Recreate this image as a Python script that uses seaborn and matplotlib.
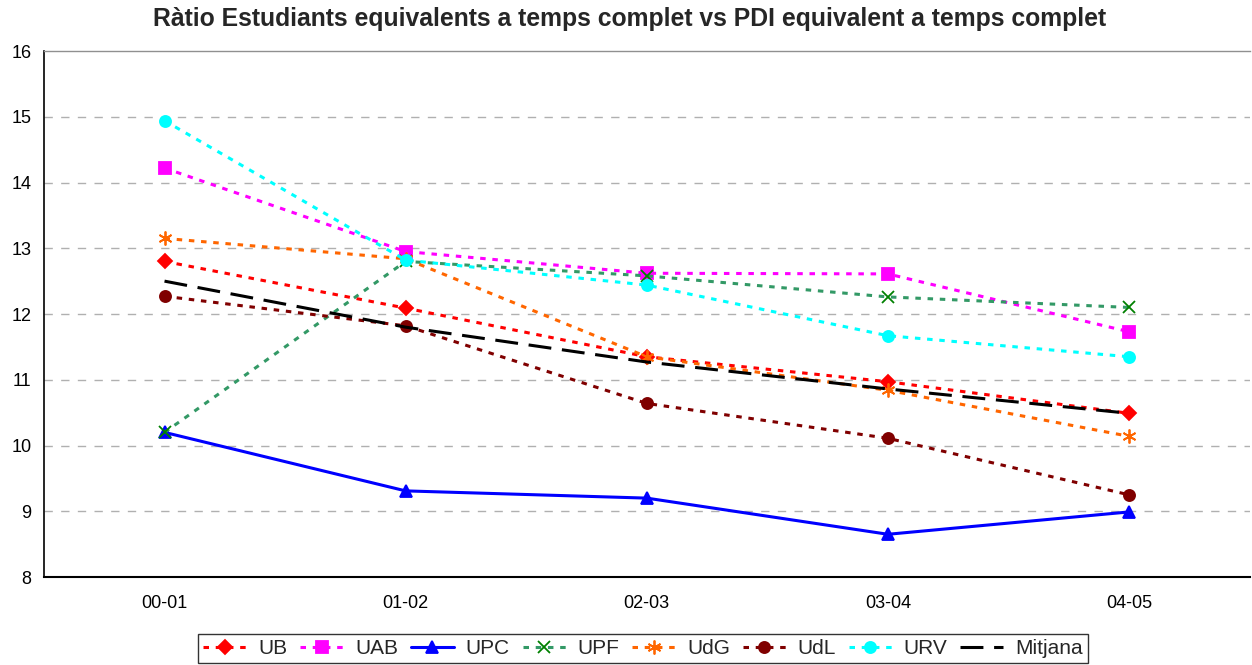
import matplotlib
matplotlib.use("Agg")
import matplotlib.pyplot as plt
import seaborn as sns
import pandas as pd
import numpy as np

categories = ["00-01", "01-02", "02-03", "03-04", "04-05"]
UB = [12.80, 12.09, 11.35, 10.97, 10.49]
UAB = [14.22, 12.95, 12.62, 12.61, 11.73]
UPC = [10.20, 9.31, 9.20, 8.65, 8.99]
UPF = [10.20, 12.80, 12.58, 12.26, 12.10]
UdG = [13.15, 12.84, 11.35, 10.84, 10.14]
UdL = [12.27, 11.82, 10.64, 10.11, 9.25]
URV = [14.94, 12.82, 12.44, 11.67, 11.35]
Mitjana = [12.50, 11.80, 11.27, 10.86, 10.49]

series = {"UB": UB, "UAB": UAB, "UPC": UPC, "UPF": UPF, "UdG": UdG,
          "UdL": UdL, "URV": URV, "Mitjana": Mitjana}

rows = []
for name, vals in series.items():
    for i, v in enumerate(vals):
        rows.append({"serie": name, "curs": i, "valor": v})
df = pd.DataFrame(rows)

sns.set_theme(style="white")
plt.rcParams["font.family"] = ["Liberation Sans", "DejaVu Sans"]

styles = {
    "UB": dict(color="#FF0000", marker="D", ms=7, mfc="#FF0000", mec="#FF0000", dashes=(1.8, 2.2)),
    "UAB": dict(color="#FF00FF", marker="s", ms=8, mfc="#FF00FF", mec="#FF00FF", dashes=(1.8, 2.2)),
    "UPC": dict(color="#0000FF", marker="^", ms=8, mfc="#0000FF", mec="#0000FF", dashes=None),
    "UPF": dict(color="#339966", marker="x", ms=8, mfc="#008000", mec="#008000", dashes=(1.8, 2.2)),
    "UdG": dict(color="#FF6600", marker=(6, 2, 0), ms=10, mfc="#FF6600", mec="#FF6600", dashes=(1.8, 2.2)),
    "UdL": dict(color="#800000", marker="o", ms=8, mfc="#800000", mec="#800000", dashes=(1.8, 2.2)),
    "URV": dict(color="#00FFFF", marker="o", ms=8, mfc="#00FFFF", mec="#00FFFF", dashes=(1.8, 2.2)),
    "Mitjana": dict(color="#000000", marker=None, ms=0, mfc="none", mec="none", dashes=(7.5, 3.5)),
}

fig = plt.figure(figsize=(12.52, 6.65), dpi=100)
ax = fig.add_axes([0.0351, 0.1323, 0.963, 0.791])

for name in series:
    st = styles[name]
    sub = df[df["serie"] == name]
    kw = dict(x="curs", y="valor", data=sub, ax=ax, color=st["color"], linewidth=2.2,
              label=name, estimator=None, sort=False)
    if st["marker"] is not None:
        kw.update(marker=st["marker"], markersize=st["ms"], markerfacecolor=st["mfc"],
                  markeredgecolor=st["mec"], markeredgewidth=1.3)
    sns.lineplot(**kw)
    line = ax.lines[-1]
    if st["dashes"] is not None:
        line.set_dashes(st["dashes"])
    line.set_zorder(3 if name != "Mitjana" else 4)

ax.set_xlim(-0.5, len(categories) - 0.5)
ax.set_ylim(8, 16)
ax.set_yticks(range(8, 17))
ax.set_xticks(range(len(categories)))
ax.set_xticklabels(categories)
ax.set_xticks(np.arange(-0.5, len(categories), 1.0), minor=True)
ax.tick_params(axis="x", which="major", length=0, pad=13, labelsize=13, colors="black")
ax.tick_params(axis="x", which="minor", length=5, width=1, color="black", direction="out")
ax.tick_params(axis="y", which="major", length=4, width=1, color="black", direction="out",
               labelsize=13, pad=5, colors="black")
ax.set_xlabel("")
ax.set_ylabel("")

for y in range(9, 16):
    ax.axhline(y, color="#B0B0B0", linewidth=1, linestyle=(0, (6, 6)), zorder=1)

ax.spines["left"].set_color("black")
ax.spines["left"].set_linewidth(1.2)
ax.spines["bottom"].set_color("black")
ax.spines["bottom"].set_linewidth(1.5)
ax.spines["top"].set_color("#909090")
ax.spines["top"].set_linewidth(1)
ax.spines["right"].set_visible(False)

fig.suptitle("Ràtio Estudiants equivalents a temps complet vs PDI equivalent a temps complet",
             fontsize=17.8, fontweight="bold", y=0.990, x=0.503, va="top")

handles, labels = ax.get_legend_handles_labels()
leg = fig.legend(handles, labels, loc="center", bbox_to_anchor=(0.5136, 0.0248), ncol=8,
                 frameon=True, fancybox=False, fontsize=15, handlelength=2.07,
                 handletextpad=0.56, columnspacing=0.62, borderpad=0.25, numpoints=1,
                 borderaxespad=0)
leg.get_frame().set_edgecolor("black")
leg.get_frame().set_linewidth(1)
if ax.legend_:
    ax.legend_.remove()

fig.savefig("out.png", dpi=100)
